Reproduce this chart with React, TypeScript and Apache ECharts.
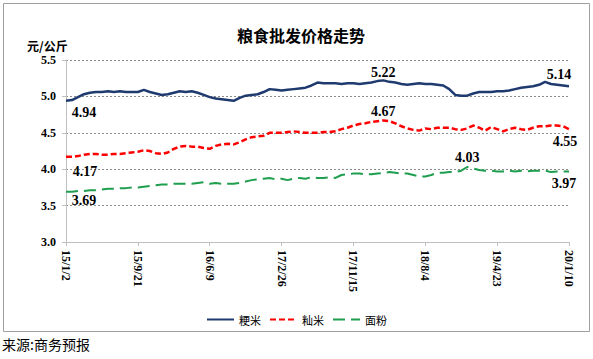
import React, { useEffect, useRef } from "react";
import * as echarts from "echarts";

const tickLabels = ["15/1/2", "15/9/21", "16/6/9", "17/2/26", "17/11/15", "18/8/4", "19/4/23", "20/1/10"];
const pointsPerTick = 12;

const seriesNames = ["粳米", "籼米", "面粉"];

const japonica = [
  4.94, 4.95, 4.99, 5.03, 5.05, 5.06, 5.06, 5.07, 5.06, 5.07, 5.06, 5.06,
  5.06, 5.09, 5.06, 5.04, 5.02, 5.03, 5.05, 5.07, 5.06, 5.07, 5.05, 5.02,
  4.99, 4.97, 4.96, 4.95, 4.94, 4.98, 5.01, 5.02, 5.03, 5.06, 5.10, 5.09,
  5.08, 5.09, 5.10, 5.11, 5.12, 5.15, 5.19, 5.18, 5.18, 5.18, 5.17, 5.18,
  5.18, 5.17, 5.18, 5.19, 5.21, 5.22, 5.20, 5.19, 5.17, 5.16, 5.17, 5.18,
  5.17, 5.17, 5.16, 5.15, 5.10, 5.02, 5.01, 5.01, 5.04, 5.06, 5.06, 5.06,
  5.07, 5.07, 5.08, 5.10, 5.12, 5.13, 5.14, 5.16, 5.20, 5.17, 5.16, 5.15,
  5.14,
];

const indica = [
  4.17, 4.17, 4.18, 4.20, 4.21, 4.21, 4.20, 4.20, 4.21, 4.21, 4.22, 4.23,
  4.24, 4.26, 4.25, 4.22, 4.21, 4.23, 4.28, 4.31, 4.32, 4.31, 4.31, 4.29,
  4.28, 4.32, 4.34, 4.35, 4.34, 4.37, 4.41, 4.44, 4.45, 4.46, 4.50, 4.50,
  4.50, 4.51, 4.52, 4.51, 4.50, 4.50, 4.50, 4.51, 4.51, 4.52, 4.55, 4.57,
  4.60, 4.62, 4.63, 4.65, 4.66, 4.67, 4.66, 4.63, 4.59, 4.56, 4.54, 4.53,
  4.56, 4.55, 4.57, 4.57, 4.57, 4.55, 4.54, 4.56, 4.60, 4.57, 4.53, 4.58,
  4.55, 4.52, 4.55, 4.57, 4.55, 4.54, 4.57, 4.59, 4.59, 4.60, 4.60, 4.59,
  4.55,
];

const flour = [
  3.69, 3.69, 3.70, 3.70, 3.71, 3.71, 3.72, 3.73, 3.73, 3.74, 3.74, 3.75,
  3.75, 3.76, 3.77, 3.78, 3.79, 3.79, 3.80, 3.80, 3.80, 3.80, 3.81, 3.82,
  3.80, 3.81, 3.80, 3.80, 3.80, 3.81, 3.83, 3.85, 3.86, 3.87, 3.88, 3.86,
  3.87, 3.85, 3.87, 3.88, 3.87, 3.89, 3.88, 3.88, 3.89, 3.88, 3.92, 3.93,
  3.94, 3.94, 3.93, 3.93, 3.94, 3.95, 3.96, 3.95, 3.94, 3.94, 3.92, 3.90,
  3.90, 3.92, 3.95, 3.95, 3.96, 3.96, 3.98, 4.03, 4.01, 3.99, 3.98, 3.98,
  3.97, 3.97, 3.98, 3.97, 3.98, 3.97, 3.98, 3.98, 3.98, 3.96, 3.97, 3.97,
  3.97,
];

// annotated points: [index, position, offsetX, offsetY]
const japonicaLabels: [number, string, number, number][] = [
  [0, "bottom", 18, 0],
  [53, "top", 0, 4],
  [84, "top", -10, 0],
];
const indicaLabels: [number, string, number, number][] = [
  [0, "bottom", 19, 3],
  [53, "top", 0, 3],
  [84, "bottom", -4, 0],
];
const flourLabels: [number, string, number, number][] = [
  [0, "bottom", 18, -3],
  [67, "top", 0, 2],
  [84, "bottom", -5, 0],
];

const categories: string[] = [];
for (let s = 0; s < tickLabels.length - 1; s++) {
  for (let k = 0; k < pointsPerTick; k++) {
    categories.push(k === 0 ? tickLabels[s] : `${tickLabels[s]}+${k}`);
  }
}
categories.push(tickLabels[tickLabels.length - 1]);

const serif = "'Liberation Serif', 'Times New Roman', serif";
const cjk = "'Noto Sans CJK SC', sans-serif";

function buildData(values: number[], labels: [number, string, number, number][]) {
  return values.map((v, i) => {
    const l = labels.find((x) => x[0] === i);
    if (!l) return v;
    return {
      value: v,
      label: {
        show: true,
        position: l[1],
        offset: [l[2], l[3]],
        distance: 5,
        formatter: (p: any) => Number(p.value).toFixed(2),
        fontFamily: serif,
        fontWeight: "bold",
        fontSize: 14,
        color: "#000",
      },
    };
  });
}

export default function App() {
  const ref = useRef<HTMLDivElement>(null);
  useEffect(() => {
    if (!ref.current) return;
    const chart = echarts.init(ref.current, null, { renderer: "svg" });
    const lineCommon = {
      type: "line",
      showSymbol: true,
      showAllSymbol: true,
      symbol: "circle",
      symbolSize: 0,
      smooth: false,
      silent: true,
    };
    chart.setOption({
      animation: false,
      backgroundColor: "#fff",
      title: {
        text: "粮食批发价格走势",
        left: 296,
        textAlign: "center",
        top: 22,
        textStyle: { fontFamily: cjk, fontWeight: "bold", fontSize: 16, color: "#000" },
      },
      graphic: [
        {
          type: "rect",
          shape: { x: 3.5, y: 3.5, width: 586, height: 328 },
          style: { fill: "none", stroke: "#a0a0a0", lineWidth: 1 },
          silent: true,
        },
        {
          type: "text",
          left: 27,
          top: 39,
          style: { text: "元/公斤", font: `bold 12px ${cjk}`, fill: "#000" },
        },
        {
          type: "text",
          left: 2,
          top: 337,
          style: { text: "来源:商务预报", font: `14px ${cjk}`, fill: "#000" },
        },
      ],
      legend: {
        data: seriesNames,
        top: 309,
        left: "center",
        itemWidth: 27,
        itemHeight: 4,
        itemGap: 8,
        itemStyle: { opacity: 0 },
        textStyle: { fontFamily: cjk, fontSize: 11, color: "#000" },
      },
      grid: { left: 66, right: 24, top: 60, bottom: 117, containLabel: false },
      xAxis: {
        type: "category",
        data: categories,
        boundaryGap: false,
        axisLine: { lineStyle: { color: "#bfbfbf", width: 1 } },
        axisTick: { show: true, interval: pointsPerTick - 1, length: 4, inside: false, lineStyle: { color: "#bfbfbf" } },
        axisLabel: {
          interval: pointsPerTick - 1,
          rotate: -90,
          margin: 8,
          fontFamily: serif,
          fontWeight: "bold",
          fontSize: 12,
          color: "#000",
        },
        splitLine: { show: false },
      },
      yAxis: {
        type: "value",
        min: 3,
        max: 5.5,
        interval: 0.5,
        axisLine: { show: true, lineStyle: { color: "#bfbfbf", width: 1 } },
        axisTick: { show: true, length: 4, lineStyle: { color: "#bfbfbf" } },
        axisLabel: {
          formatter: (v: number) => v.toFixed(1),
          margin: 10,
          fontFamily: serif,
          fontWeight: "bold",
          fontSize: 12,
          color: "#000",
        },
        splitLine: { show: true, lineStyle: { color: "#8c8c8c", type: [2, 2], width: 1 } },
      },
      series: [
        {
          ...lineCommon,
          name: seriesNames[0],
          data: buildData(japonica, japonicaLabels),
          itemStyle: { color: "#1f3a6e" },
          lineStyle: { color: "#1f3a6e", width: 2.5, type: "solid" },
          z: 5,
        },
        {
          ...lineCommon,
          name: seriesNames[1],
          data: buildData(indica, indicaLabels),
          itemStyle: { color: "#ff0000" },
          lineStyle: { color: "#ff0000", width: 2.5, type: [6, 3] },
          z: 4,
        },
        {
          ...lineCommon,
          name: seriesNames[2],
          data: buildData(flour, flourLabels),
          itemStyle: { color: "#1e9e4e" },
          lineStyle: { color: "#1e9e4e", width: 2, type: [12, 6] },
          z: 3,
        },
      ],
    });
    return () => chart.dispose();
  }, []);
  return (
    <div
      ref={ref}
      style={{ position: "fixed", left: 0, top: 0, width: 593, height: 359 }}
    />
  );
}
